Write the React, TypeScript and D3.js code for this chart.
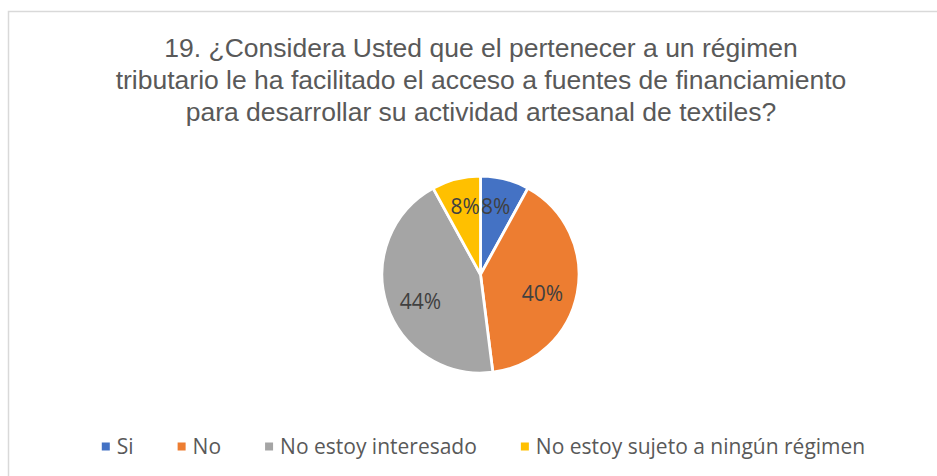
import React, { useEffect, useRef } from 'react';
import * as d3 from 'd3';

// chart data
const categories = ['Si', 'No', 'No estoy interesado', 'No estoy sujeto a ningún régimen'];
const values = [8, 40, 44, 8];
const colors = ['#4472C4', '#ED7D31', '#A5A5A5', '#FFC000'];
const titleLines = [
  '19. ¿Considera Usted que el pertenecer a un régimen',
  'tributario le ha facilitado el acceso a fuentes de financiamiento',
  'para desarrollar su actividad artesanal de textiles?',
];

const W = 937;
const H = 476;

const App = () => {
  const svgRef = useRef<SVGSVGElement>(null);

  useEffect(() => {
    const svg = d3.select(svgRef.current);
    svg.selectAll('*').remove();

    // chart frame (runs off the right and bottom edge)
    svg.append('rect')
      .attr('x', 8.5)
      .attr('y', 11.5)
      .attr('width', W + 20)
      .attr('height', H + 20)
      .attr('fill', '#fff')
      .attr('stroke', '#D9D9D9')
      .attr('stroke-width', 1.5);

    // title
    svg.append('g')
      .selectAll('text')
      .data(titleLines)
      .join('text')
      .attr('x', 481)
      .attr('y', (d, i) => 57 + i * 32)
      .attr('text-anchor', 'middle')
      .attr('font-family', '"Liberation Sans", Arial, sans-serif')
      .attr('font-size', 26.5)
      .attr('fill', '#595959')
      .text(d => d);

    // pie
    const cx = 480.5;
    const cy = 274.5;
    const r = 98.5;
    const total = d3.sum(values);
    const pie = d3.pie<number>().sort(null).value(d => d);
    const arcs = pie(values);
    const arc = d3.arc<d3.PieArcDatum<number>>().innerRadius(0).outerRadius(r);

    const g = svg.append('g').attr('transform', `translate(${cx},${cy})`);
    g.selectAll('path')
      .data(arcs)
      .join('path')
      .attr('d', arc)
      .attr('fill', (d, i) => colors[i])
      .attr('stroke', '#fff')
      .attr('stroke-width', 2.8)
      .attr('stroke-linejoin', 'round');

    // narrow slices get their label pushed outward, wide ones sit a bit lower
    const labelPos = (d: d3.PieArcDatum<number>) => {
      const narrow = d.endAngle - d.startAngle < 0.6;
      const lr = narrow ? r * 0.71 : r * 0.64;
      const [x, y] = d3.arc<d3.PieArcDatum<number>>().innerRadius(lr).outerRadius(lr).centroid(d);
      return [narrow ? x * 0.88 : x, narrow ? y : y + 7];
    };

    g.selectAll('text')
      .data(arcs)
      .join('text')
      .attr('transform', d => `translate(${labelPos(d)})`)
      .attr('text-anchor', 'middle')
      .attr('dy', '0.36em')
      .attr('font-family', '"Open Sans", "Noto Sans", sans-serif')
      .attr('font-size', 21)
      .attr('fill', '#404040')
      .text(d => `${Math.round((d.value / total) * 100)}%`);

    // legend
    const legend = svg.append('g');
    const items = legend.selectAll('g')
      .data(categories)
      .join('g');
    items.append('rect')
      .attr('width', 8)
      .attr('height', 8)
      .attr('y', -4)
      .attr('fill', (d, i) => colors[i]);
    items.append('text')
      .attr('x', 15)
      .attr('dy', '0.36em')
      .attr('font-family', '"Open Sans", "Noto Sans", sans-serif')
      .attr('font-size', 21)
      .attr('fill', '#595959')
      .text(d => d);

    const gap = 44;
    const widths: number[] = [];
    items.each(function () {
      const t = d3.select(this).select('text').node() as SVGTextElement;
      widths.push(15 + t.getComputedTextLength());
    });
    const totalW = d3.sum(widths) + gap * (widths.length - 1);
    let x = 483.5 - totalW / 2;
    items.attr('transform', (d, i) => {
      const tx = x;
      x += widths[i] + gap;
      return `translate(${tx},446.5)`;
    });
  }, []);

  return <svg ref={svgRef} width={W} height={H} style={{ position: 'absolute', left: 0, top: 0 }} />;
};

export default App;
